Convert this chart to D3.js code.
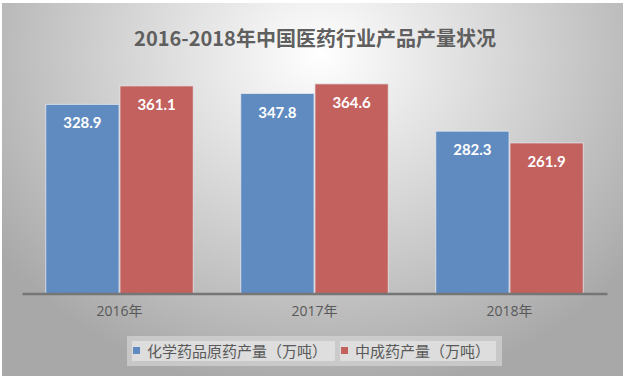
<!DOCTYPE html>
<html>
<head>
<meta charset="utf-8">
<script src="https://cdn.jsdelivr.net/npm/d3@7"></script>
<style>
  html, body { margin: 0; padding: 0; background: #fff; }
  svg { display: block; }
</style>
</head>
<body>
<div id="chart"></div>
<script>
// chart data
var years = ["2016年", "2017年", "2018年"];
var seriesNames = ["化学药品原药产量（万吨）", "中成药产量（万吨）"];
var chemValues = [328.9, 347.8, 282.3];
var tcmValues = [361.1, 364.6, 261.9];
var colors = ["#5f8bc0", "#c3615e"];

var width = 625, height = 378;

var svg = d3.select("#chart")
  .append("svg")
  .attr("width", width)
  .attr("height", height);

var defs = svg.append("defs");

// radial background like the office chart style
var bg = defs.append("radialGradient")
  .attr("id", "bg")
  .attr("gradientUnits", "userSpaceOnUse")
  .attr("cx", 320).attr("cy", 55).attr("r", 400)
  .attr("gradientTransform", "translate(320,55) scale(1,0.85) translate(-320,-55)");
bg.append("stop").attr("offset", "0%").attr("stop-color", "#ffffff");
bg.append("stop").attr("offset", "45%").attr("stop-color", "#d8d8d8");
bg.append("stop").attr("offset", "100%").attr("stop-color", "#a8a8a8");

svg.append("rect")
  .attr("x", 2).attr("y", 3)
  .attr("width", width - 4).attr("height", height - 5)
  .attr("fill", "url(#bg)");

// title
svg.append("text")
  .attr("x", 315)
  .attr("y", 46)
  .attr("text-anchor", "middle")
  .style("font-family", "'Noto Sans CJK SC', 'DejaVu Sans', sans-serif")
  .style("font-size", "20px")
  .style("font-weight", "bold")
  .attr("fill", "#5f5f5f")
  .text("2016-2018年中国医药行业产品产量状况");

// plot area
var plotLeft = 22, plotRight = 607, baseY = 293.5;

var x0 = d3.scaleBand()
  .domain(years)
  .range([plotLeft, plotRight])
  .paddingInner(0)
  .paddingOuter(0);

var x1 = d3.scaleBand()
  .domain([0, 1])
  .range([0, x0.bandwidth()])
  .paddingOuter(0.32)
  .paddingInner(0.012);

var y = d3.scaleLinear().domain([0, 400]).range([baseY, baseY - 230]);

var data = years.map(function (yr, i) {
  return { year: yr, values: [chemValues[i], tcmValues[i]] };
});

var groups = svg.selectAll(".grp")
  .data(data)
  .enter().append("g")
  .attr("class", "grp")
  .attr("transform", function (d) { return "translate(" + x0(d.year) + ",0)"; });

var bars = groups.selectAll(".bar")
  .data(function (d) { return d.values.map(function (v, k) { return { k: k, v: v }; }); })
  .enter();

bars.append("rect")
  .attr("class", "bar")
  .attr("x", function (d) { return x1(d.k); })
  .attr("y", function (d) { return y(d.v); })
  .attr("width", x1.bandwidth())
  .attr("height", function (d) { return baseY - y(d.v); })
  .attr("fill", function (d) { return colors[d.k]; })
  .attr("stroke", "#e6e9ef")
  .attr("stroke-opacity", 0.8)
  .attr("stroke-width", 1);

bars.append("text")
  .attr("x", function (d) { return x1(d.k) + x1.bandwidth() / 2; })
  .attr("y", function (d) { return y(d.v) + 24; })
  .attr("text-anchor", "middle")
  .style("font-family", "Lato, 'Open Sans', sans-serif")
  .style("font-size", "15px")
  .style("font-weight", "bold")
  .attr("fill", "#ffffff")
  .text(function (d) { return d.v.toFixed(1); });

// x axis
var xAxis = svg.append("g")
  .attr("transform", "translate(0," + baseY + ")")
  .call(d3.axisBottom(x0).tickSize(0).tickPadding(13));

xAxis.select(".domain")
  .attr("stroke", "#767676")
  .attr("stroke-width", 2.5);

xAxis.selectAll("text")
  .style("font-family", "'Open Sans', 'Noto Sans CJK SC', sans-serif")
  .style("font-size", "14px")
  .attr("fill", "#595959");

// legend
var legend = svg.append("g");
legend.append("rect")
  .attr("x", 127).attr("y", 336)
  .attr("width", 375).attr("height", 30)
  .attr("fill", "#d4d4d4")
  .attr("fill-opacity", 0.7);

var legendItems = [
  { name: seriesNames[0], color: colors[0], x: 132, w: 203 },
  { name: seriesNames[1], color: colors[1], x: 340, w: 156 }
];

legendItems.forEach(function (it) {
  legend.append("rect")
    .attr("x", it.x).attr("y", 341)
    .attr("width", it.w).attr("height", 20)
    .attr("fill", "#e2e2e2")
    .attr("fill-opacity", 0.8);
  legend.append("rect")
    .attr("x", it.x + 1).attr("y", 347)
    .attr("width", 7).attr("height", 7)
    .attr("fill", it.color);
  legend.append("text")
    .attr("x", it.x + 15)
    .attr("y", 357)
    .style("font-family", "'Noto Sans CJK SC', sans-serif")
    .style("font-size", "15px")
    .attr("fill", "#595959")
    .text(it.name);
});
</script>
</body>
</html>
